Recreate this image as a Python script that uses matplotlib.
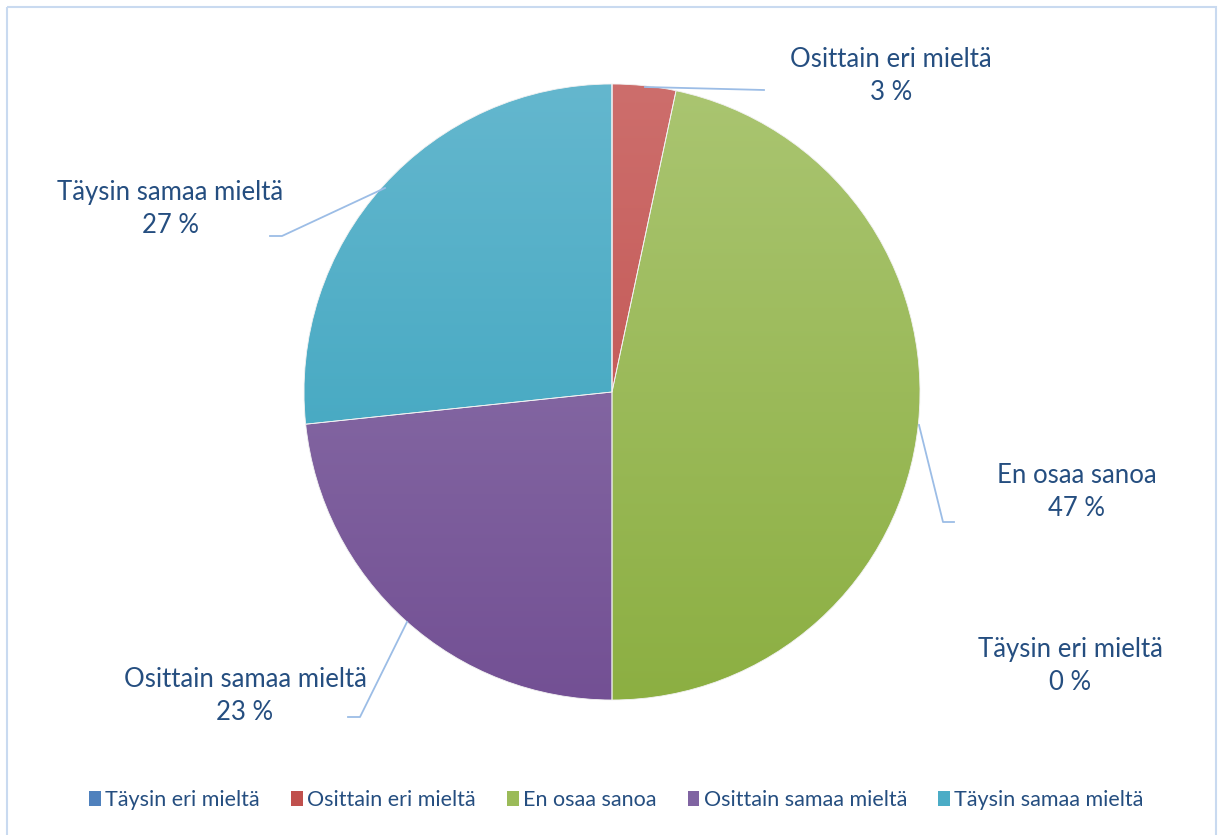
import numpy as np
import matplotlib.pyplot as plt
from matplotlib.patches import Rectangle, Patch
from matplotlib.colors import LinearSegmentedColormap

# answers (n=30), Excel-style percent labels
categories = ['Täysin eri mieltä', 'Osittain eri mieltä', 'En osaa sanoa',
              'Osittain samaa mieltä', 'Täysin samaa mieltä']
counts = [0, 1, 14, 7, 8]
pct_labels = ['0 %', '3 %', '47 %', '23 %', '27 %']

# colours: light top -> dark bottom
top_cols = ['#6F96CB', '#CD6E6C', '#AAC571', '#917AAE', '#64B7CE']
bot_cols = ['#3F72B0', '#BE4B48', '#8CAF42', '#735094', '#33A0BB']
legend_cols = ['#4F81BD', '#C0504D', '#9BBB59', '#8064A2', '#4BACC6']
txt_col = '#254E80'
line_col = '#9CBDE6'

W, H = 1218, 835
fig = plt.figure(figsize=(W / 100, H / 100), dpi=100)
ax = fig.add_axes([0, 0, 1, 1])

cx, cy, r = 612, 392, 308

# y axis is inverted (pixel coords), so startangle=-90 is 12 o'clock
# and counterclock=True runs clockwise on screen
wedges, _ = ax.pie(counts, startangle=-90, counterclock=True, center=(cx, cy),
                   radius=r, frame=True,
                   wedgeprops=dict(lw=0.6, edgecolor='#F2F2F2'))

grad = np.linspace(0, 1, 256).reshape(-1, 1)
for w, c0, c1 in zip(wedges, top_cols, bot_cols):
    cmap = LinearSegmentedColormap.from_list('g', [c0, c1])
    w.set_facecolor('none')
    im = ax.imshow(grad, cmap=cmap, extent=(cx - r, cx + r, cy + r, cy - r),
                   aspect='auto', zorder=1, interpolation='bilinear')
    im.set_clip_path(w)
    w.set_zorder(2)

ax.set_xlim(0, W)
ax.set_ylim(H, 0)
ax.set_aspect('equal')
ax.axis('off')

# chart area border
ax.add_patch(Rectangle((7, 7), 1209, 840, fill=False, ec='#C9DAF0', lw=1.5))

# label layout (pixel positions) and leader lines
label_pos = [(1070, 666), (891, 76), (1077, 492), (245, 696), (170, 209)]
leaders = [None,
           [(645, 87), (764, 90)],
           [(919, 425), (943, 522), (954, 522)],
           [(407, 622), (360, 717), (348, 717)],
           [(385, 188), (282, 236), (270, 236)]]

for cat, p, pos, ld in zip(categories, pct_labels, label_pos, leaders):
    ax.text(pos[0], pos[1], cat + '\n' + p, ha='center', va='center',
            fontsize=18.5, color=txt_col, family='Lato', linespacing=1.4)
    if ld:
        xs, ys = zip(*ld)
        ax.plot(xs, ys, color=line_col, lw=1.3, zorder=3)

handles = [Patch(facecolor=c, edgecolor='none') for c in legend_cols]
fig.legend(handles, categories, loc='center', bbox_to_anchor=(0.506, 1 - 800 / H),
           ncol=5, frameon=False, handlelength=0.55, handleheight=0.75,
           handletextpad=0.2, columnspacing=1.45,
           prop=dict(family='Lato', size=15.5), labelcolor=txt_col)

fig.savefig('out.png', dpi=100)
